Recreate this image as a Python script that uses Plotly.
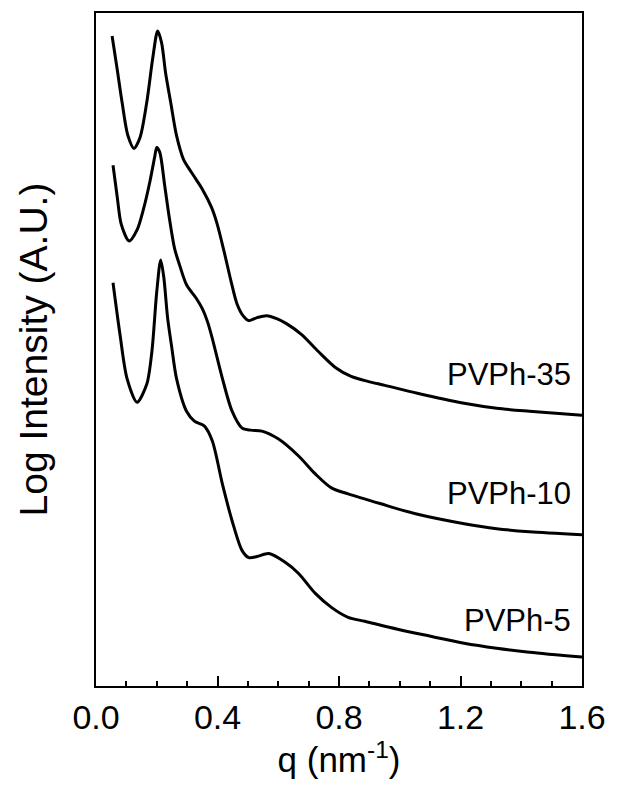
import plotly.graph_objects as go

# SAXS profiles, q in nm^-1, log intensity in arbitrary (offset) units
q_35 = [0.053, 0.070, 0.086, 0.105, 0.125, 0.145, 0.167, 0.187, 0.203, 0.216,
        0.229, 0.246, 0.265, 0.288, 0.314, 0.350, 0.380, 0.399, 0.422, 0.445,
        0.464, 0.484, 0.503, 0.530, 0.562, 0.595, 0.627, 0.677, 0.732, 0.788,
        0.840, 0.895, 0.951, 1.058, 1.212, 1.319, 1.427, 1.600]
i_35 = [6.53, 6.19, 5.86, 5.53, 5.40, 5.51, 5.86, 6.31, 6.58, 6.46,
        6.16, 5.86, 5.53, 5.29, 5.16, 4.99, 4.81, 4.64, 4.36, 4.06,
        3.84, 3.72, 3.67, 3.70, 3.72, 3.69, 3.64, 3.53, 3.36, 3.20,
        3.11, 3.06, 3.02, 2.94, 2.84, 2.79, 2.76, 2.72]

q_10 = [0.056, 0.070, 0.083, 0.109, 0.135, 0.158, 0.177, 0.193, 0.200, 0.210,
        0.226, 0.242, 0.259, 0.275, 0.298, 0.331, 0.350, 0.367, 0.383, 0.416,
        0.448, 0.481, 0.510, 0.546, 0.601, 0.667, 0.722, 0.775, 0.830, 0.938,
        1.052, 1.212, 1.319, 1.427, 1.600]
i_10 = [5.23, 4.91, 4.64, 4.47, 4.58, 4.81, 5.06, 5.31, 5.41, 5.36,
        5.03, 4.69, 4.39, 4.23, 4.03, 3.89, 3.79, 3.66, 3.49, 3.09,
        2.76, 2.59, 2.57, 2.56, 2.48, 2.31, 2.13, 1.99, 1.93, 1.83,
        1.73, 1.63, 1.58, 1.55, 1.52]

q_5 = [0.056, 0.079, 0.102, 0.135, 0.167, 0.184, 0.200, 0.213, 0.223, 0.236,
       0.249, 0.265, 0.298, 0.324, 0.357, 0.383, 0.416, 0.448, 0.481, 0.503,
       0.530, 0.569, 0.624, 0.667, 0.722, 0.775, 0.830, 0.885, 0.993, 1.101,
       1.212, 1.319, 1.427, 1.600]
i_5 = [4.05, 3.53, 3.09, 2.85, 3.03, 3.36, 3.96, 4.28, 4.11, 3.69,
       3.41, 3.09, 2.76, 2.66, 2.61, 2.46, 2.03, 1.66, 1.36, 1.29,
       1.30, 1.33, 1.24, 1.13, 0.93, 0.79, 0.69, 0.65, 0.57, 0.50,
       0.43, 0.38, 0.34, 0.29]

sample_names = ["PVPh-35", "PVPh-10", "PVPh-5"]
label_levels = [3.13, 1.93, 0.66]

x_ticks = [0.0, 0.4, 0.8, 1.2, 1.6]

FONT = "Liberation Sans, Arial, sans-serif"

fig = go.Figure()
for name, qs, ys in zip(sample_names, [q_35, q_10, q_5], [i_35, i_10, i_5]):
    fig.add_trace(go.Scatter(
        x=qs, y=ys, mode="lines", name=name,
        line=dict(color="black", width=3, shape="spline", smoothing=0.8),
        showlegend=False,
    ))

for name, level in zip(sample_names, label_levels):
    fig.add_annotation(
        x=1.6, y=level, xref="x", yref="y", text=name, showarrow=False,
        xanchor="right", yanchor="middle", xshift=-9,
        font=dict(family=FONT, size=31, color="black"),
    )

fig.update_layout(
    width=617, height=790,
    margin=dict(l=96, r=31, t=11, b=104),
    paper_bgcolor="white", plot_bgcolor="white",
    font=dict(family=FONT, color="black"),
)

fig.update_xaxes(
    range=[0, 1.6],
    tickvals=x_ticks, ticktext=[f"{v:.1f}" for v in x_ticks],
    ticks="inside", ticklen=10, tickwidth=2, tickcolor="black",
    minor=dict(dtick=0.1, tick0=0, ticks="inside", ticklen=5, tickwidth=2, tickcolor="black", showgrid=False),
    showline=True, linecolor="black", linewidth=2, mirror=True,
    showgrid=False, zeroline=False,
    tickfont=dict(family=FONT, size=34, color="black"),
    ticklabelstandoff=0,
    title=dict(text="q (nm<sup>-1</sup>)", font=dict(family=FONT, size=35, color="black"), standoff=6),
)

fig.update_yaxes(
    range=[0, 6.76],
    showticklabels=False, ticks="",
    showline=True, linecolor="black", linewidth=2, mirror=True,
    showgrid=False, zeroline=False,
    title=dict(text="Log Intensity (A.U.)", font=dict(family=FONT, size=39, color="black"), standoff=34),
)

fig.write_html("out.html")
